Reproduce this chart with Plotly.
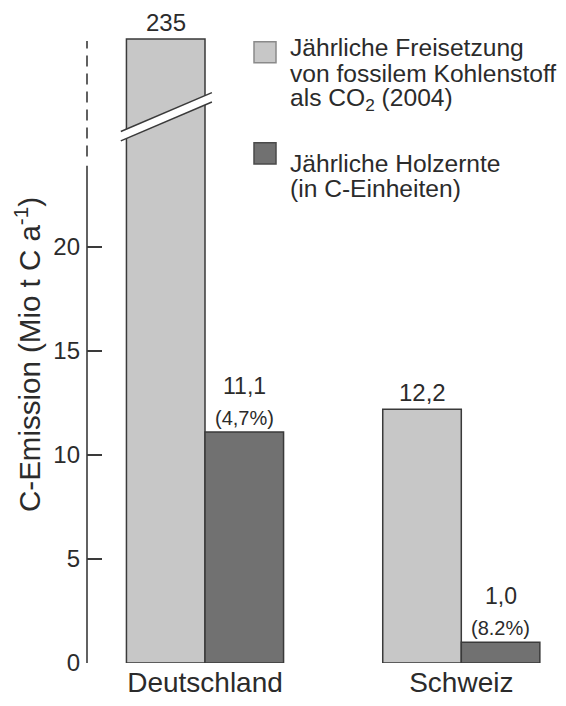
import plotly.graph_objects as go

# ---------------- data ----------------
countries = ["Deutschland", "Schweiz"]
fossil = [235, 12.2]             # Mio t C / a
harvest = [11.1, 1.0]            # Mio t C / a
fossil_labels = ["235", "12,2"]
harvest_labels = ["11,1", "1,0"]
harvest_shares = ["(4,7%)", "(8.2%)"]
y_ticks = [0, 5, 10, 15, 20]
legend_fossil = ["Jährliche Freisetzung", "von fossilem Kohlenstoff", "als CO<sub>2</sub> (2004)"]
legend_harvest = ["Jährliche Holzernte", "(in C-Einheiten)"]
y_title = "C-Emission (Mio t C a<sup>-1</sup>)"

# ---------------- styling / geometry ----------------
OFF = 8                      # page body margin of the browser
W, H = 566 - OFF, 706 - 2 * OFF
ML, MR, MT = 87 - OFF, 10, 30 - OFF
MB = H - (663 - OFF)
Y_MAX = 30.43
CAP = 30.0            # display height for values beyond the broken axis
SOLID_TOP = 23.9      # where the solid axis line ends
DASH_LO, DASH_HI = 24.35, 29.9
X_RANGE = [-0.4604, 1.3695]
BARGAP = 0.387
bw = (1 - BARGAP) / 2

FONT = "Liberation Sans, Arial, Helvetica, sans-serif"
TXT = "#2b2b2b"
C_FOSSIL = "#c7c7c7"
C_HARV = "#717171"
EDGE = "#3a3a3a"

plot_w = W - ML - MR
plot_h = H - MT - MB


def pxx(px):
    return (px - OFF - ML) / plot_w


def pxy(py):
    return (H - MB - (py - OFF)) / plot_h


x_idx = list(range(len(countries)))
fossil_disp = [min(v, CAP) for v in fossil]

fig = go.Figure()
fig.add_trace(go.Bar(x=x_idx, y=fossil_disp, name="fossil",
                     marker=dict(color=C_FOSSIL, line=dict(color=EDGE, width=1.5))))
fig.add_trace(go.Bar(x=x_idx, y=harvest, name="harvest",
                     marker=dict(color=C_HARV, line=dict(color=EDGE, width=1.5))))

shapes = []
annotations = []

# axis line: solid part + dashed (broken) part
shapes.append(dict(type="line", xref="paper", yref="y", x0=0, x1=0, y0=0, y1=SOLID_TOP,
                   line=dict(color=EDGE, width=1.6)))
shapes.append(dict(type="line", xref="paper", yref="y", x0=0, x1=0, y0=DASH_LO, y1=DASH_HI,
                   line=dict(color=EDGE, width=1.6, dash="11px,7px")))

# break marks on bars exceeding the cap
for i, v in enumerate(fossil):
    if v > CAP:
        xl = i - bw - 0.022
        xr = i + 0.027
        yl, yr = 25.10, 26.97
        th = 0.45
        shapes.append(dict(type="path", xref="x", yref="y",
                           path=f"M {xl},{yl} L {xr},{yr} L {xr},{yr+th} L {xl},{yl+th} Z",
                           fillcolor="white", line=dict(width=0), layer="above"))
        for yy0, yy1 in [(yl, yr), (yl + th, yr + th)]:
            shapes.append(dict(type="line", xref="x", yref="y", x0=xl, x1=xr, y0=yy0, y1=yy1,
                               line=dict(color=EDGE, width=1.5), layer="above"))

# value labels
for i in x_idx:
    annotations.append(dict(x=i - bw / 2, y=fossil_disp[i], xref="x", yref="y",
                            text=fossil_labels[i], showarrow=False, yanchor="bottom",
                            yshift=1, font=dict(size=24, color=TXT, family=FONT)))
    annotations.append(dict(x=i + bw / 2, y=harvest[i], xref="x", yref="y",
                            text=harvest_labels[i], showarrow=False, yanchor="bottom",
                            yshift=31, font=dict(size=23, color=TXT, family=FONT)))
    annotations.append(dict(x=i + bw / 2, y=harvest[i], xref="x", yref="y",
                            text=harvest_shares[i], showarrow=False, yanchor="bottom",
                            yshift=1, font=dict(size=20, color=TXT, family=FONT)))

# y-axis title
annotations.append(dict(x=pxx(27), y=pxy(355), xref="paper", yref="paper",
                        text=y_title, textangle=-90, showarrow=False,
                        xanchor="center", yanchor="middle",
                        font=dict(size=29.5, color=TXT, family=FONT)))

# legend (manual)
LEG_X_BOX0, LEG_X_BOX1 = 254, 276
LEG_TEXT_X = 290
for (b0, b1), col, edge in [((41.7, 62.7), C_FOSSIL, "#8a8a8a"), ((142.7, 164), C_HARV, "#4a4a4a")]:
    shapes.append(dict(type="rect", xref="paper", yref="paper",
                       x0=pxx(LEG_X_BOX0), x1=pxx(LEG_X_BOX1), y0=pxy(b1), y1=pxy(b0),
                       fillcolor=col, line=dict(color=edge, width=1.5)))
leg_tops = [34.4, 59.6, 84.4, 150.1, 175.1]
for t, line in zip(leg_tops, legend_fossil + legend_harvest):
    annotations.append(dict(x=pxx(LEG_TEXT_X), y=pxy(t), xref="paper", yref="paper",
                            text=line, showarrow=False, xanchor="left", yanchor="top",
                            borderpad=0, borderwidth=0,
                            font=dict(size=24.6, color=TXT, family=FONT)))

fig.update_layout(
    width=W, height=H,
    margin=dict(l=ML, r=MR, t=MT, b=MB, pad=0, autoexpand=False),
    paper_bgcolor="white", plot_bgcolor="white",
    showlegend=False,
    barmode="group", bargap=BARGAP, bargroupgap=0,
    shapes=shapes, annotations=annotations,
    font=dict(family=FONT, color=TXT),
    xaxis=dict(range=X_RANGE, tickvals=x_idx, ticktext=countries, showline=False,
               showgrid=False, zeroline=False, ticks="", ticklabelstandoff=0,
               automargin=False,
               tickfont=dict(size=28, color=TXT, family=FONT), fixedrange=True),
    yaxis=dict(range=[0, Y_MAX], tickvals=y_ticks, ticktext=[str(t) for t in y_ticks],
               showline=False, showgrid=False, zeroline=False, automargin=False,
               ticks="inside", ticklen=15, tickwidth=1.5, tickcolor=EDGE,
               ticklabelstandoff=6,
               tickfont=dict(size=24, color=TXT, family=FONT), fixedrange=True),
)

fig.write_html("out.html")
